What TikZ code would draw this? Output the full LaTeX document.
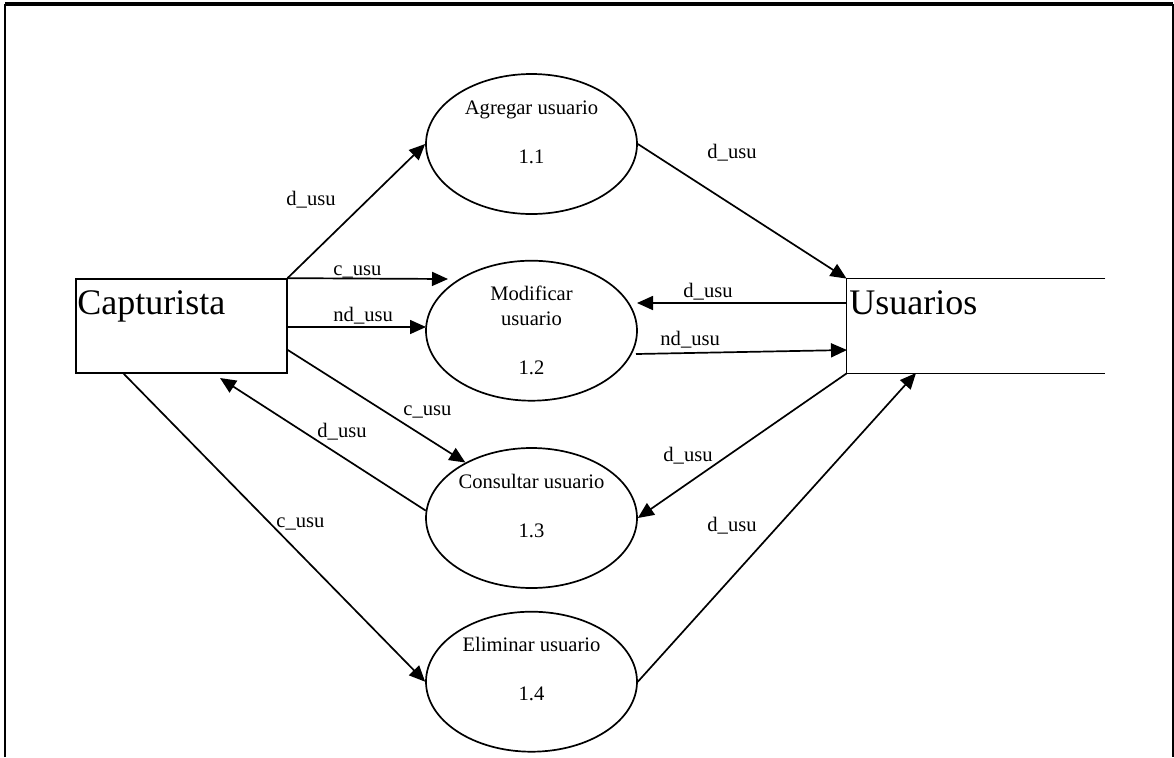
\documentclass[tikz,border=0pt]{standalone}
\usepackage{fontspec}
\setmainfont{Liberation Serif}
\usetikzlibrary{arrows.meta,shapes.geometric}
\begin{document}
\begin{tikzpicture}[x=0.5pt,y=-0.5pt,
  flow/.style={line width=0.85pt,-{Triangle[length=8pt,width=7pt]}},
  proc/.style={draw,line width=0.85pt,ellipse,minimum width=105.5pt,minimum height=70pt,inner sep=0pt},
  ptext/.style={anchor=base,inner sep=0pt,font=\fontsize{10.3pt}{12pt}\selectfont},
  lbl/.style={anchor=base west,inner sep=0pt,font=\fontsize{10.3pt}{12pt}\selectfont},
  big/.style={anchor=base west,inner sep=0pt,font=\fontsize{18pt}{21pt}\selectfont}]
\useasboundingbox (0,0) rectangle (1174,757);

% outer frame, open at the bottom
\draw[line width=1.2pt] (5,757) -- (5,4);
\draw[line width=1.6pt] (5,4) -- (1173,4);
\draw[line width=1.2pt] (1173,4) -- (1173,757);

% external entity
\node[draw,line width=0.85pt,rectangle,minimum width=105.35pt,minimum height=47pt,inner sep=0pt] (cap) at (181.3,326) {};
\node[big] (capt) at (77,314) {Capturista};

% data store
\node[rectangle,minimum width=129pt,minimum height=47pt,inner sep=0pt] (usu) at (976,326) {};
\draw[line width=0.85pt] (usu.north east) -- (usu.north west) -- (usu.south west) -- (usu.south east);
\node[big] (usut) at (849,314) {Usuarios};

% processes
\node[proc] (agr) at (531.5,144) {};
\node[ptext] (agr1) at (531.5,114) {Agregar usuario};
\node[ptext] (agr2) at (531.5,163) {1.1};

\node[proc] (mod) at (531.5,330.7) {};
\node[ptext] (mod1) at (531.5,300.7) {Modificar};
\node[ptext] (mod2) at (531.5,325) {usuario};
\node[ptext] (mod3) at (531.5,374) {1.2};

\node[proc] (con) at (531.5,518) {};
\node[ptext] (con1) at (531.5,488) {Consultar usuario};
\node[ptext] (con2) at (531.5,537) {1.3};

\node[proc] (eli) at (531.5,681.7) {};
\node[ptext] (eli1) at (531.5,651.7) {Eliminar usuario};
\node[ptext] (eli2) at (531.5,700) {1.4};

% free connector ends
\coordinate (p2) at (448,279);
\coordinate (p3s) at (286.7,327);
\coordinate (p3e) at (426,327);
\coordinate (p4s) at (286.7,349.3);
\coordinate (p5e) at (220,378);
\coordinate (p6s) at (123,373);
\coordinate (p8s) at (847,303);
\coordinate (p8e) at (637,303);
\coordinate (p9s) at (636,354);
\coordinate (p9e) at (847,350);
\coordinate (p11e) at (916,373);

% flows
\draw[flow] (cap.north east) -- (agr.west);
\draw[flow] (cap.north east) -- (p2);
\draw[flow] (p3s) -- (p3e);
\draw[flow] (p4s) -- (con.140);
\draw[flow] (con.176) -- (p5e);
\draw[flow] (p6s) -- (eli.west);
\draw[flow] (agr.east) -- (usu.north west);
\draw[flow] (p8s) -- (p8e);
\draw[flow] (p9s) -- (p9e);
\draw[flow] (usu.south west) -- (con.east);
\draw[flow] (eli.east) -- (p11e);

% flow labels
\node[lbl] (l1) at (286,205) {d\_usu};
\node[lbl] (l2) at (333,275) {c\_usu};
\node[lbl] (l3) at (333,321.7) {nd\_usu};
\node[lbl] (l4) at (403,415) {c\_usu};
\node[lbl] (l5) at (317,437) {d\_usu};
\node[lbl] (l6) at (276,527) {c\_usu};
\node[lbl] (l7) at (707,158.3) {d\_usu};
\node[lbl] (l8) at (683,297.7) {d\_usu};
\node[lbl] (l9) at (660,345) {nd\_usu};
\node[lbl] (l10) at (663,461) {d\_usu};
\node[lbl] (l11) at (707,531) {d\_usu};
\end{tikzpicture}
\end{document}
